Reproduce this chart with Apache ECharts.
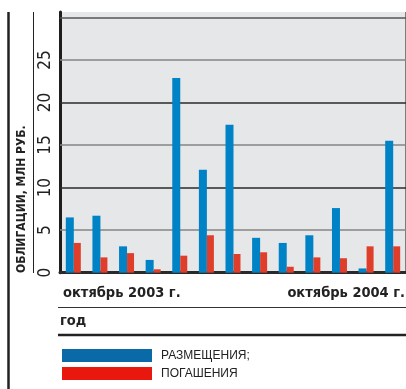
<!DOCTYPE html>
<html><head><meta charset="utf-8">
<script src="https://cdn.jsdelivr.net/npm/echarts@6/dist/echarts.min.js"></script>
<style>html,body{margin:0;padding:0;background:#fff}#c{width:406px;height:389px}</style>
</head><body><div id="c"></div>
<script>
const months = ['октябрь 2003 г.','ноябрь 2003 г.','декабрь 2003 г.','январь 2004 г.','февраль 2004 г.','март 2004 г.','апрель 2004 г.','май 2004 г.','июнь 2004 г.','июль 2004 г.','август 2004 г.','сентябрь 2004 г.','октябрь 2004 г.'];
const placements = [6.5, 6.7, 3.1, 1.5, 22.9, 12.1, 17.4, 4.1, 3.5, 4.4, 7.6, 0.5, 15.5];
const redemptions = [3.5, 1.8, 2.3, 0.4, 2.0, 4.4, 2.2, 2.4, 0.7, 1.8, 1.7, 3.1, 3.1];
const yTicks = [0, 5, 10, 15, 20, 25];
const gridValues = [5, 10, 15, 20, 25, 30];
const seriesNames = ['РАЗМЕЩЕНИЯ;', 'ПОГАШЕНИЯ'];
const yTitle = 'ОБЛИГАЦИИ, МЛН РУБ.';
const xFooter = 'год';

const chart = echarts.init(document.getElementById('c'));
const F = "'DejaVu Sans Condensed', Roboto, sans-serif";
chart.setOption({
  animation: false,
  textStyle: {fontFamily: F},
  grid: {left: 60, right: 0, top: 12, bottom: 116.3, show: true, backgroundColor: '#E6E7E9', borderWidth: 0},
  xAxis: {
    type: 'category', data: months, boundaryGap: true,
    axisLine: {show: true, onZero: false, lineStyle: {color: '#2a2a2a', width: 3}},
    axisTick: {show: false}, axisLabel: {show: false},
    splitLine: {show: true, interval: (i) => i === 3, lineStyle: {color: '#7d7d7d', width: 2}}
  },
  yAxis: {
    type: 'value', min: 0, max: 30.65, interval: 5,
    axisLine: {show: true, lineStyle: {color: '#1e1e1e', width: 3}},
    axisTick: {show: false},
    axisLabel: {rotate: 90, margin: 6, fontFamily: F, fontSize: 17, color: '#222',
      formatter: (v) => yTicks.indexOf(v) >= 0 ? String(v) : ''},
    splitLine: {show: false}
  },
  legend: [
    {left: 62, top: 349, padding: 0, itemWidth: 90, itemHeight: 13, icon: 'rect',
      textStyle: {fontFamily: 'Liberation Sans', fontSize: 12, color: '#222', padding: [0,0,0,4]},
      data: [{name: seriesNames[0], itemStyle: {color: '#0A6AA8'}}]},
    {left: 62, top: 367, padding: 0, itemWidth: 90, itemHeight: 13, icon: 'rect',
      textStyle: {fontFamily: 'Liberation Sans', fontSize: 12, color: '#222', padding: [0,0,0,4]},
      data: [{name: seriesNames[1], itemStyle: {color: '#E8180E'}}]}
  ],
  series: [
    {name: seriesNames[0], type: 'bar', data: placements, barWidth: 8, barGap: '0%', itemStyle: {color: '#0082C6'}, z: 3,
      markLine: {silent: true, symbol: 'none', label: {show: false}, z: 1,
        data: gridValues.map(v => ({yAxis: v, lineStyle: {type: 'solid', width: 1.5, color: v % 10 === 0 ? (v === 30 ? '#555' : '#2a2a2a') : '#858585'}}))}},
    {name: seriesNames[1], type: 'bar', data: redemptions, barWidth: 7, barGap: '0%', itemStyle: {color: '#DE3E2A'}, z: 3}
  ],
  graphic: [
    {type: 'line', shape: {x1: 8.5, y1: 12, x2: 8.5, y2: 389}, style: {stroke: '#222', lineWidth: 2.5}},
    {type: 'line', shape: {x1: 33.5, y1: 12, x2: 33.5, y2: 273}, style: {stroke: '#222', lineWidth: 1}},
    {type: 'text', x: 22, y: 273, rotation: Math.PI / 2,
      style: {text: yTitle, fontFamily: F, fontWeight: 'bold', fontSize: 12, fill: '#222', textAlign: 'left', textVerticalAlign: 'middle'}},
    {type: 'text', x: 63, y: 293, style: {text: months[0], fontFamily: F, fontWeight: 'bold', fontSize: 14.5, fill: '#222', textAlign: 'left', textVerticalAlign: 'middle'}},
    {type: 'text', x: 405, y: 293, style: {text: months[months.length - 1], fontFamily: F, fontWeight: 'bold', fontSize: 14.5, fill: '#222', textAlign: 'right', textVerticalAlign: 'middle'}},
    {type: 'line', shape: {x1: 58, y1: 307.5, x2: 406, y2: 307.5}, style: {stroke: '#333', lineWidth: 1}},
    {type: 'text', x: 60, y: 321, style: {text: xFooter, fontFamily: F, fontWeight: 'bold', fontSize: 14.5, fill: '#222', textAlign: 'left', textVerticalAlign: 'middle'}},
    {type: 'line', shape: {x1: 58, y1: 335, x2: 406, y2: 335}, style: {stroke: '#222', lineWidth: 2.5}}
  ]
});
</script></body></html>
